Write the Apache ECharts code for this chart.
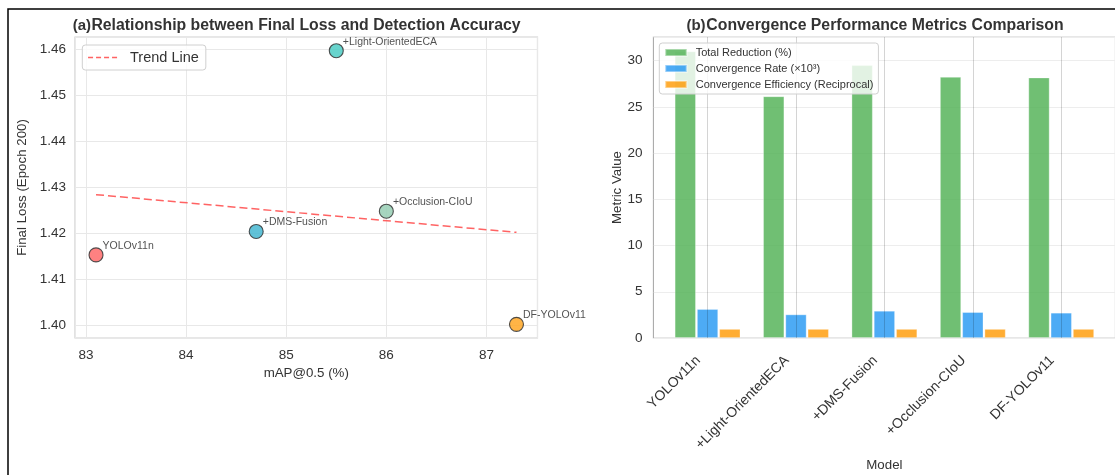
<!DOCTYPE html>
<html><head><meta charset="utf-8">
<script src="https://cdn.jsdelivr.net/npm/echarts@6/dist/echarts.min.js"></script>
<style>html,body{margin:0;padding:0;background:#fff}#c{width:1115px;height:475px}</style>
</head><body><div id="c"></div>
<script>
// ---- data ----
const models = ['YOLOv11n', '+Light-OrientedECA', '+DMS-Fusion', '+Occlusion-CIoU', 'DF-YOLOv11'];
const mAP50 = [83.1, 85.5, 84.7, 86.0, 87.3];
const finalLoss = [1.4153, 1.4597, 1.4204, 1.4248, 1.4002];
const trendX = [83.1, 87.3];
const trendY = [1.4284, 1.4202];
const totalReduction = [31.0, 26.14, 29.5, 28.24, 28.17];
const convergenceRate = [3.13, 2.55, 2.94, 2.80, 2.73];
const convergenceEfficiency = [0.98, 0.98, 0.98, 0.98, 0.98];
const pointColors = ['#FF6B6B', '#4ECDC4', '#45B7D1', '#96CEB4', '#FFA726'];
const barNames = ['Total Reduction (%)', 'Convergence Rate (×10³)', 'Convergence Efficiency (Reciprocal)'];
const barColors = ['#4CAF50', '#2196F3', '#FF9800'];

const FONT = '"Liberation Sans", Arial, Helvetica, sans-serif';
const TXT = '#333';

const chart = echarts.init(document.getElementById('c'), null, {renderer: 'canvas'});

const scatterData = mAP50.map((x, i) => ({
  value: [x, finalLoss[i]],
  name: models[i],
  itemStyle: {color: pointColors[i], opacity: 0.85}
}));
const trendData = trendX.map((x, i) => [x, trendY[i]]);
const barSeries = [totalReduction, convergenceRate, convergenceEfficiency].map((arr, k) => ({
  name: barNames[k],
  type: 'bar',
  xAxisIndex: 1, yAxisIndex: 1,
  barWidth: 21.2,
  barGap: '5%',
  data: arr.map((v, i) => [i, v]),
  itemStyle: {color: barColors[k], opacity: 0.8, borderColor: 'rgba(255,255,255,0.5)', borderWidth: 0.8},
  emphasis: {disabled: true}
}));

const commonAxisLabel = {color: TXT, fontSize: 13.5, fontFamily: FONT};
const nameStyle = {color: TXT, fontSize: 13.3, fontFamily: FONT};

const option = {
  animation: false,
  backgroundColor: '#fff',
  textStyle: {fontFamily: FONT},
  grid: [
    {left: 75, top: 37, width: 462.5, height: 301, show: true, borderColor: '#CFCFCF', borderWidth: 1.2, outerBoundsMode: 'none', containLabel: false},
    {left: 653.4, top: 37, width: 462, height: 301, show: true, borderColor: '#CFCFCF', borderWidth: 1.2, outerBoundsMode: 'none', containLabel: false}
  ],
  xAxis: [
    {
      type: 'value', gridIndex: 0, min: 82.89, max: 87.51,
      name: 'mAP@0.5 (%)', nameLocation: 'middle', nameGap: 28, nameTextStyle: nameStyle,
      axisLine: {show: false}, axisTick: {show: false},
      axisLabel: Object.assign({margin: 10, showMinLabel: false, showMaxLabel: false, hideOverlap: false}, commonAxisLabel),
      splitLine: {show: true, lineStyle: {color: '#E8E8E8', width: 1}}
    },
    {
      type: 'value', gridIndex: 1, min: -0.6125, max: 4.6125, z: 3,
      name: 'Model', nameLocation: 'middle', nameGap: 120, nameTextStyle: nameStyle,
      axisLine: {show: false}, axisTick: {show: false},
      axisLabel: Object.assign({
        margin: 11, rotate: 45, showMinLabel: false, showMaxLabel: false, hideOverlap: false,
        padding: [0, 13, 0, 0],
        formatter: v => (Math.abs(v - Math.round(v)) < 1e-6 && v >= 0 && v < models.length) ? models[Math.round(v)] : ''
      }, commonAxisLabel, {fontSize: 14}),
      splitLine: {show: true, lineStyle: {color: 'rgba(0,0,0,0.17)', width: 1}}
    }
  ],
  yAxis: [
    {
      type: 'value', gridIndex: 0, min: 1.39723, max: 1.46268,
      name: 'Final Loss (Epoch 200)', nameLocation: 'middle', nameGap: 46, nameTextStyle: nameStyle,
      axisLine: {show: false}, axisTick: {show: false},
      axisLabel: Object.assign({margin: 9, showMinLabel: false, showMaxLabel: false, formatter: v => v.toFixed(2)}, commonAxisLabel),
      splitLine: {show: true, lineStyle: {color: '#E8E8E8', width: 1}}
    },
    {
      type: 'value', gridIndex: 1, min: 0, max: 32.55, interval: 5,
      name: 'Metric Value', nameLocation: 'middle', nameGap: 30, nameTextStyle: nameStyle,
      axisLine: {show: false}, axisTick: {show: false},
      axisLabel: Object.assign({margin: 11, showMaxLabel: false}, commonAxisLabel),
      splitLine: {show: true, lineStyle: {color: '#EDEDED', width: 1}}
    }
  ],
  legend: [
    {
      data: ['Trend Line'],
      left: 82.3, top: 45, orient: 'vertical',
      padding: [5, 7, 5, 5],
      itemWidth: 31, itemHeight: 14,
      itemStyle: {opacity: 0},
      lineStyle: {color: '#FF5252', width: 1.5, type: [5, 3]},
      backgroundColor: 'rgba(255,255,255,0.8)', borderColor: '#D0D0D0', borderWidth: 1, borderRadius: 3,
      textStyle: {color: TXT, fontSize: 14.5, fontFamily: FONT, padding: [0, 0, 0, 6]},
      selectedMode: false
    },
    {
      data: barNames.map(n => ({name: n, icon: 'rect'})),
      left: 659.3, top: 43, orient: 'vertical',
      padding: [4, 5, 4, 5],
      itemWidth: 21.4, itemHeight: 7, itemGap: 5,
      backgroundColor: 'rgba(255,255,255,0.8)', borderColor: '#D0D0D0', borderWidth: 1, borderRadius: 3,
      textStyle: {color: TXT, fontSize: 11, fontFamily: FONT, padding: [0, 0, 0, 4]},
      selectedMode: false
    }
  ],
  series: [
    {
      name: 'Trend Line', type: 'line', xAxisIndex: 0, yAxisIndex: 0,
      data: trendData, symbol: 'none', showSymbol: false, z: 2,
      lineStyle: {color: '#FF5252', width: 1.5, type: [8, 4], opacity: 0.9},
      itemStyle: {color: '#FF5252'},
      emphasis: {disabled: true}
    },
    {
      name: 'Models', type: 'scatter', xAxisIndex: 0, yAxisIndex: 0,
      data: scatterData, symbolSize: 14, z: 3,
      itemStyle: {borderColor: '#333', borderWidth: 1.1},
      label: {
        show: true, position: 'right', distance: 0, offset: [-1, -9],
        formatter: p => p.name, color: TXT, fontSize: 10.5, fontFamily: FONT
      },
      emphasis: {disabled: true}
    }
  ].concat(barSeries),
  graphic: [
    {type: 'polyline', silent: true, shape: {points: [[8, 475], [8, 9], [1115, 9]]}, style: {stroke: '#000', lineWidth: 1.5, fill: null}},
    {type: 'text', silent: true, style: {text: '(a)', x: 91, y: 25.5, align: 'right', verticalAlign: 'middle', fill: TXT, font: 'bold 15px ' + FONT}},
    {type: 'text', silent: true, style: {text: 'Relationship between Final Loss and Detection Accuracy', x: 306, y: 26, align: 'center', verticalAlign: 'middle', fill: TXT, font: 'bold 15.8px ' + FONT}},
    {type: 'text', silent: true, style: {text: '(b)', x: 705.6, y: 25.5, align: 'right', verticalAlign: 'middle', fill: TXT, font: 'bold 15px ' + FONT}},
    {type: 'text', silent: true, style: {text: 'Convergence Performance Metrics Comparison', x: 885, y: 26, align: 'center', verticalAlign: 'middle', fill: TXT, font: 'bold 15.8px ' + FONT}}
  ]
};
chart.setOption(option);
</script>
</body></html>
